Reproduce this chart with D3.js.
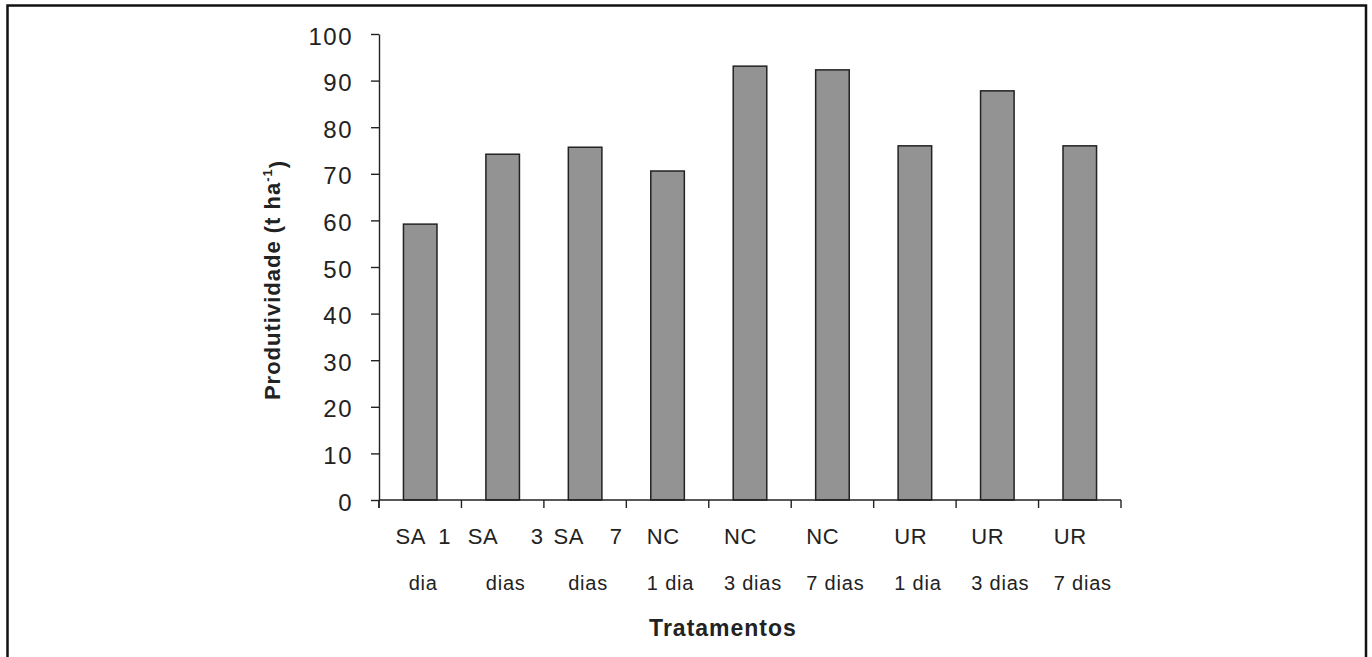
<!DOCTYPE html>
<html>
<head>
<meta charset="utf-8">
<script src="https://cdn.jsdelivr.net/npm/d3@7"></script>
<style>
  body { margin: 0; background: #fff; }
  svg { display: block; font-family: "Liberation Sans", Arial, sans-serif; }
</style>
</head>
<body>
<svg id="chart" width="1372" height="657"></svg>
<script>
// values
const treatments = ["SA 1 dia", "SA 3 dias", "SA 7 dias", "NC 1 dia", "NC 3 dias", "NC 7 dias", "UR 1 dia", "UR 3 dias", "UR 7 dias"];
const labelTop = ["SA  1", "SA     3", "SA    7", "NC", "NC", "NC", "UR", "UR", "UR"];
const labelBottom = ["dia", "dias", "dias", "1 dia", "3 dias", "7 dias", "1 dia", "3 dias", "7 dias"];
const yields = [59.2, 74.2, 75.7, 70.6, 93.1, 92.3, 76.0, 87.8, 76.0];
const yTicks = [0, 10, 20, 30, 40, 50, 60, 70, 80, 90, 100];

const svg = d3.select("#chart");

// outer frame
svg.append("rect")
    .attr("x", 7.5).attr("y", 5.5)
    .attr("width", 1358.5).attr("height", 700)
    .attr("fill", "none")
    .attr("stroke", "#111")
    .attr("stroke-width", 2.5);

const x = d3.scaleBand()
    .domain(treatments)
    .range([379, 1121])
    .paddingInner(0.593)
    .paddingOuter(0.2965);

const y = d3.scaleLinear()
    .domain([0, 100])
    .range([500, 34]);

// y axis
const yAxis = svg.append("g")
    .attr("transform", "translate(379,0)")
    .call(d3.axisLeft(y).tickValues(yTicks).tickSize(8).tickSizeOuter(0).tickPadding(18));
yAxis.select(".domain").attr("stroke", "#222").attr("stroke-width", 1.4);
yAxis.selectAll(".tick line").attr("stroke", "#222").attr("stroke-width", 1.4);
yAxis.selectAll(".tick text")
    .attr("fill", "#222")
    .style("font-size", "24px")
    .style("letter-spacing", "1.5px")
    .attr("dy", "0.42em");
yAxis.append("line")
    .attr("x1", 0).attr("x2", 0)
    .attr("y1", y(0)).attr("y2", y(0) + 8)
    .attr("stroke", "#222").attr("stroke-width", 1.4);

// bars
svg.append("g").selectAll("rect")
    .data(yields)
    .join("rect")
    .attr("x", (d, i) => x(treatments[i]))
    .attr("y", d => y(d))
    .attr("width", x.bandwidth())
    .attr("height", d => y(0) - y(d))
    .attr("fill", "#939393")
    .attr("stroke", "#222")
    .attr("stroke-width", 1.5);

// x axis: baseline with ticks at category boundaries
const xAxis = svg.append("g");
xAxis.append("line")
    .attr("x1", x.range()[0]).attr("x2", x.range()[1])
    .attr("y1", y(0)).attr("y2", y(0))
    .attr("stroke", "#222").attr("stroke-width", 1.4);
xAxis.selectAll(".bound")
    .data(d3.range(treatments.length + 1))
    .join("line")
    .attr("class", "bound")
    .attr("x1", i => x.range()[0] + i * x.step())
    .attr("x2", i => x.range()[0] + i * x.step())
    .attr("y1", y(0)).attr("y2", y(0) + 8)
    .attr("stroke", "#222").attr("stroke-width", 1.4);

// two-line category labels
const labels = xAxis.selectAll(".cat")
    .data(treatments)
    .join("g")
    .attr("class", "cat");

labels.each(function(d, i) {
    const g = d3.select(this);
    const cx = x(d) + x.bandwidth() / 2 + 3;
    const bottom = g.append("text")
        .attr("x", cx).attr("y", 590)
        .attr("text-anchor", "middle")
        .attr("fill", "#222")
        .style("font-size", "20px")
        .style("letter-spacing", "0.8px")
        .text(labelBottom[i]);
    const top = g.append("text")
        .attr("xml:space", "preserve")
        .style("white-space", "pre")
        .attr("y", 544)
        .attr("fill", "#222")
        .style("font-size", "22px")
        .style("letter-spacing", "0.6px")
        .text(labelTop[i]);
    const w1 = top.node().getComputedTextLength();
    const w2 = bottom.node().getComputedTextLength();
    top.attr("x", cx - Math.max(w1, w2) / 2);
});

// axis titles
svg.append("text")
    .attr("x", 723).attr("y", 636)
    .attr("text-anchor", "middle")
    .attr("fill", "#222")
    .style("font-size", "23px")
    .style("font-weight", "bold")
    .style("letter-spacing", "1px")
    .text("Tratamentos");

const yTitle = svg.append("text")
    .attr("transform", "translate(280,280) rotate(-90)")
    .attr("text-anchor", "middle")
    .attr("fill", "#222")
    .style("font-size", "22px")
    .style("font-weight", "bold")
    .style("letter-spacing", "1px");
yTitle.append("tspan").text("Produtividade (t ha");
yTitle.append("tspan").attr("dy", "-0.6em").style("font-size", "13px").text("-1");
yTitle.append("tspan").attr("dy", "0.6em").text(")");
</script>
</body>
</html>
